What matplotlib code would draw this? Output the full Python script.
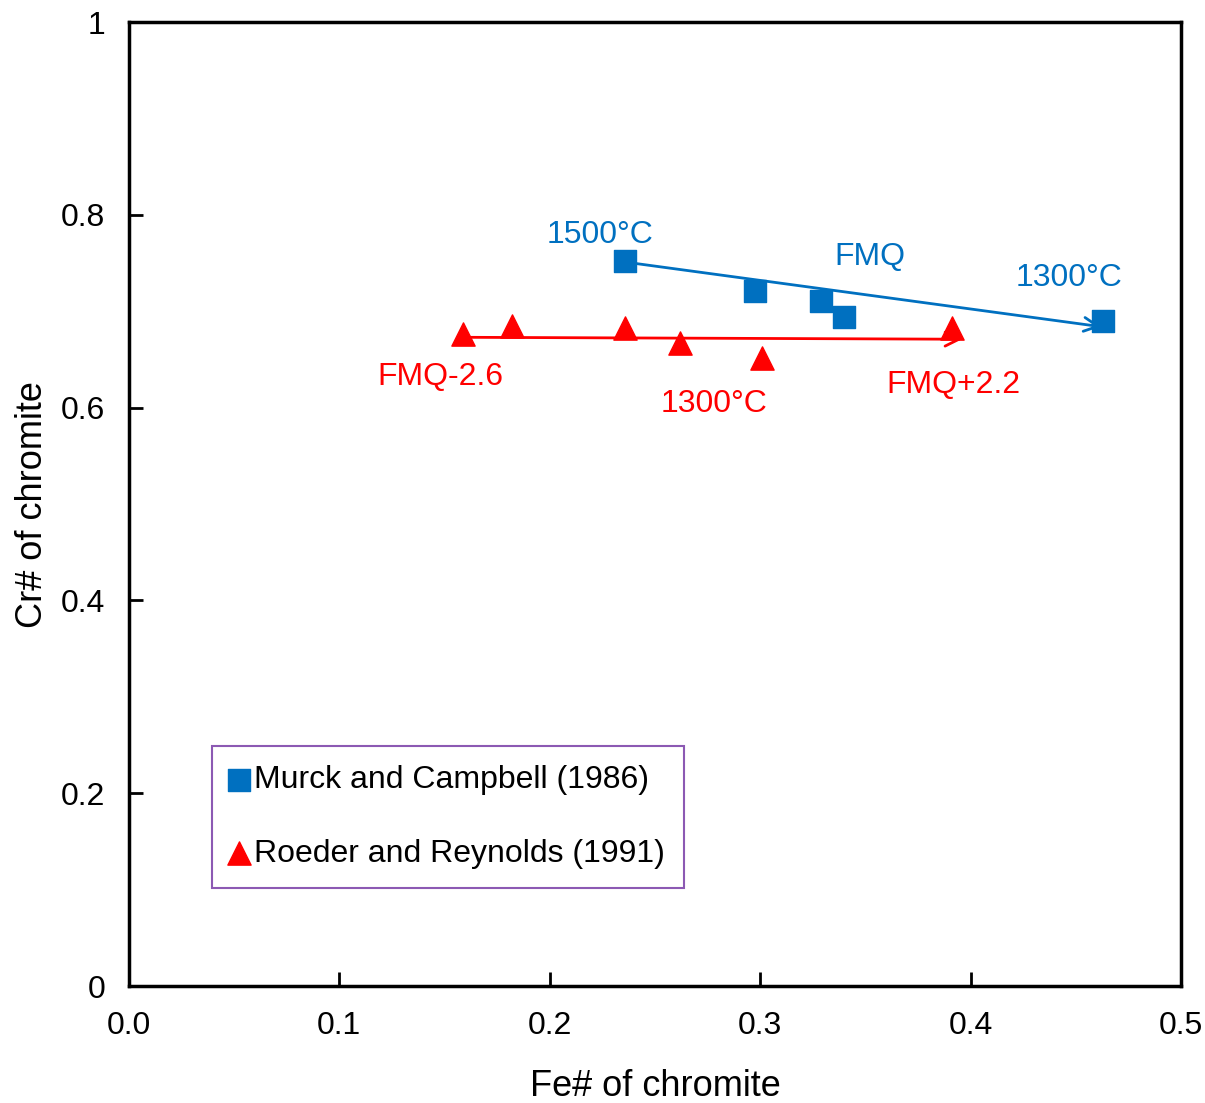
import matplotlib
matplotlib.use("Agg")
import matplotlib.pyplot as plt

plt.rcParams['font.family'] = ['Liberation Sans', 'DejaVu Sans']

# Murck and Campbell (1986)
murck_fe = [0.236, 0.2975, 0.329, 0.340, 0.463]
murck_cr = [0.752, 0.721, 0.711, 0.694, 0.690]
# Roeder and Reynolds (1991)
roeder_fe = [0.159, 0.182, 0.236, 0.262, 0.301, 0.391]
roeder_cr = [0.676, 0.685, 0.683, 0.667, 0.652, 0.683]

# trend arrows (start, end)
blue_arrow = [(0.236, 0.751), (0.462, 0.684)]
red_arrow = [(0.159, 0.673), (0.396, 0.671)]

BLUE = '#0070C0'
RED = '#FF0000'

fig = plt.figure(figsize=(12.05, 11.03), dpi=100)
ax = fig.add_axes([0.107, 0.106, 0.873, 0.874])

ax.scatter(murck_fe, murck_cr, marker='s', s=230, color=BLUE, zorder=3,
           label='Murck and Campbell (1986)')
ax.scatter(roeder_fe, roeder_cr, marker='^', s=280, color=RED, zorder=3,
           label='Roeder and Reynolds (1991)')

ax.annotate('', xy=blue_arrow[1], xytext=blue_arrow[0],
            arrowprops=dict(arrowstyle='->', color=BLUE, lw=2, mutation_scale=25,
                            shrinkA=0, shrinkB=0), zorder=2)
ax.annotate('', xy=red_arrow[1], xytext=red_arrow[0],
            arrowprops=dict(arrowstyle='->', color=RED, lw=2, mutation_scale=25,
                            shrinkA=0, shrinkB=0), zorder=2)

fs = 23
ax.text(0.224, 0.779, '1500°C', color=BLUE, fontsize=fs, ha='center', va='center')
ax.text(0.352, 0.756, 'FMQ', color=BLUE, fontsize=fs, ha='center', va='center')
ax.text(0.447, 0.734, '1300°C', color=BLUE, fontsize=fs, ha='center', va='center')
ax.text(0.148, 0.632, 'FMQ-2.6', color=RED, fontsize=fs, ha='center', va='center')
ax.text(0.278, 0.604, '1300°C', color=RED, fontsize=fs, ha='center', va='center')
ax.text(0.392, 0.623, 'FMQ+2.2', color=RED, fontsize=fs, ha='center', va='center')

ax.set_xlim(0, 0.5)
ax.set_ylim(0, 1)
ax.set_xticks([0, 0.1, 0.2, 0.3, 0.4, 0.5])
ax.set_xticklabels(['0.0', '0.1', '0.2', '0.3', '0.4', '0.5'])
ax.set_yticks([0, 0.2, 0.4, 0.6, 0.8, 1.0])
ax.set_yticklabels(['0', '0.2', '0.4', '0.6', '0.8', '1'])
ax.tick_params(direction='in', length=10, width=2, labelsize=23)
ax.tick_params(axis='x', pad=18)
ax.tick_params(axis='y', pad=17)

for sp in ax.spines.values():
    sp.set_linewidth(2.5)

ax.set_xlabel('Fe# of chromite', fontsize=26, labelpad=20)
ax.set_ylabel('Cr# of chromite', fontsize=26, labelpad=8)

leg = ax.legend(loc='lower left', bbox_to_anchor=(0.079, 0.102), fontsize=23,
                frameon=True, fancybox=False, handletextpad=0.2, borderpad=0.6,
                labelspacing=1.35, handlelength=0.5, borderaxespad=0,
                markerscale=1.0)
leg.get_frame().set_edgecolor('#7030A0')
leg.get_frame().set_linewidth(1.5)

fig.savefig('out.png', dpi=100)
